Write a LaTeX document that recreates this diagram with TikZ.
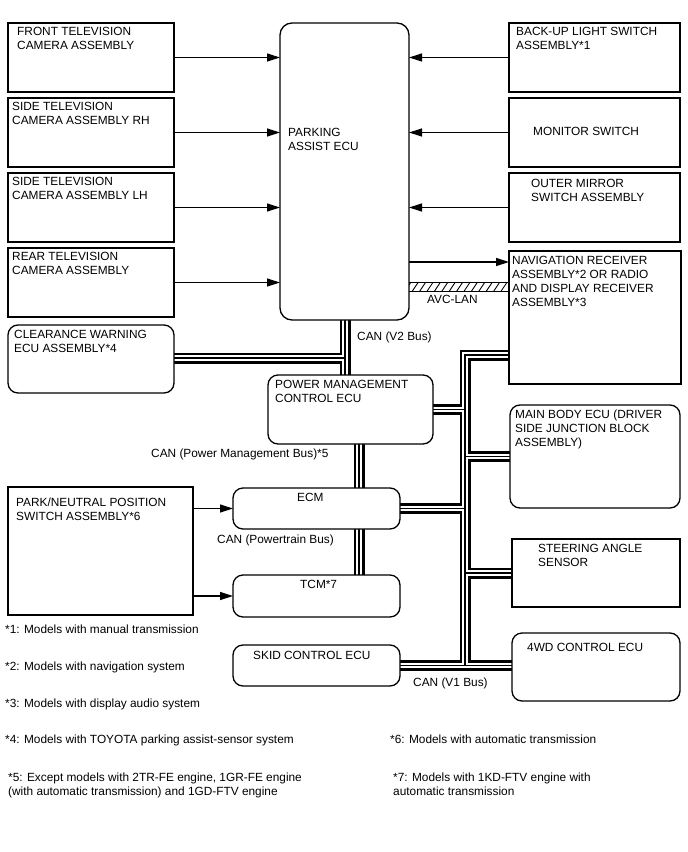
\documentclass[tikz,border=0pt]{standalone}
\usepackage{fontspec}
\setmainfont{Liberation Sans}
\usetikzlibrary{arrows.meta,calc,backgrounds}

\begin{document}
\begin{tikzpicture}[
  x=1bp, y=-1bp,
  font=\fontsize{11.9}{14}\selectfont,
  unit/.style={draw,line width=1.3bp,fill=white,anchor=north west,inner sep=0pt,outer sep=0pt},
  ecu/.style={unit,rounded corners=10bp},
  txt/.style={anchor=north west,inner sep=0pt,align=left},
  sig/.style={line width=1.2bp,-{Triangle[length=13bp,width=8bp]}},
  busa/.style={line width=11bp},
  busb/.style={line width=5.4bp,white},
  busc/.style={line width=1.1bp},
]
\useasboundingbox (0,0) rectangle (688,852);

\node[unit,minimum width=166bp,minimum height=69bp,label={[txt,xshift=9bp,yshift=-4bp]north west:{FRONT TELEVISION\\CAMERA ASSEMBLY}}] (front) at (8,23) {};
\node[unit,minimum width=166bp,minimum height=69bp,label={[txt,xshift=4bp,yshift=-4bp]north west:{SIDE TELEVISION\\CAMERA ASSEMBLY RH}}] (siderh) at (8,98) {};
\node[unit,minimum width=166bp,minimum height=69bp,label={[txt,xshift=4bp,yshift=-4bp]north west:{SIDE TELEVISION\\CAMERA ASSEMBLY LH}}] (sidelh) at (8,173) {};
\node[unit,minimum width=166bp,minimum height=69bp,label={[txt,xshift=4bp,yshift=-4bp]north west:{REAR TELEVISION\\CAMERA ASSEMBLY}}] (rear) at (8,248) {};
\node[ecu,rounded corners=12bp,minimum width=129bp,minimum height=297bp,label={[txt,xshift=8bp,yshift=-105bp]north west:{PARKING\\ASSIST ECU}}] (pa) at (280,23) {};

\node[unit,minimum width=171bp,minimum height=69bp,label={[txt,xshift=7bp,yshift=-4bp]north west:{BACK-UP LIGHT SWITCH\\ASSEMBLY*1}}] (backup) at (509,23) {};
\node[unit,minimum width=171bp,minimum height=69bp,label={[txt,xshift=24bp,yshift=-29.5bp]north west:{MONITOR SWITCH}}] (monitor) at (509,98) {};
\node[unit,minimum width=171bp,minimum height=69bp,label={[txt,xshift=22bp,yshift=-6bp]north west:{OUTER MIRROR\\SWITCH ASSEMBLY}}] (mirror) at (509,173) {};
\node[unit,minimum width=172bp,minimum height=133bp,label={[txt,xshift=3bp,yshift=-5bp]north west:{NAVIGATION RECEIVER\\ASSEMBLY*2 OR RADIO\\AND DISPLAY RECEIVER\\ASSEMBLY*3}}] (nav) at (509,251) {};

\node[ecu,minimum width=166bp,minimum height=68bp,label={[txt,xshift=6bp,yshift=-5bp]north west:{CLEARANCE WARNING\\ECU ASSEMBLY*4}}] (cw) at (8,325) {};
\node[ecu,minimum width=165bp,minimum height=69bp,label={[txt,xshift=7bp,yshift=-5bp]north west:{POWER MANAGEMENT\\CONTROL ECU}}] (pmcu) at (268,375) {};
\node[unit,minimum width=185bp,minimum height=128bp,label={[txt,xshift=8bp,yshift=-11bp]north west:{PARK/NEUTRAL POSITION\\SWITCH ASSEMBLY*6}}] (pn) at (8,487) {};
\node[ecu,minimum width=167bp,minimum height=41bp,label={[txt,xshift=64bp,yshift=-5bp]north west:{ECM}}] (ecm) at (233,488) {};
\node[ecu,minimum width=167bp,minimum height=42bp,label={[txt,xshift=67bp,yshift=-5bp]north west:{TCM*7}}] (tcm) at (233,575) {};
\node[ecu,minimum width=167bp,minimum height=41bp,label={[txt,xshift=20bp,yshift=-6bp]north west:{SKID CONTROL ECU}}] (skid) at (233,645) {};

\node[ecu,minimum width=170bp,minimum height=103bp,label={[txt,xshift=5bp,yshift=-5bp]north west:{MAIN BODY ECU (DRIVER\\SIDE JUNCTION BLOCK\\ASSEMBLY)}}] (mb) at (510,405) {};
\node[unit,minimum width=168bp,minimum height=68bp,label={[txt,xshift=26bp,yshift=-5bp]north west:{STEERING ANGLE\\SENSOR}}] (sas) at (512,539) {};
\node[ecu,minimum width=168bp,minimum height=68bp,label={[txt,xshift=15bp,yshift=-10bp]north west:{4WD CONTROL ECU}}] (wd) at (512,633) {};

\foreach \src in {front,siderh,sidelh,rear}
  \draw[sig] (\src.east) -- (\src.east -| pa.west);
\foreach \src in {backup,monitor,mirror}
  \draw[sig] (\src.west) -- (\src.west -| pa.east);
\coordinate (navin) at ($(nav.north west)+(0,11)$);
\draw[sig] (pa.east |- navin) -- (navin);
\draw[sig] (pn.east |- ecm.west) -- (ecm.west);
\draw[sig] (pn.east |- tcm.west) -- (tcm.west);

\coordinate (avca) at (409,282);
\coordinate (avcb) at (509,291);
\begin{scope}
  \clip (avca) rectangle (avcb);
  \foreach \k in {0,...,14}
    \draw[line width=0.9bp] ($(avca)+(\k*7.4-4,9)$) -- ++(6,-9);
\end{scope}
\draw[line width=0.6bp] (avca) -- (avca -| avcb) (avca |- avcb) -- (avcb);

\coordinate (v2) at (345,358);
\coordinate (pm) at (359,466);
\coordinate (v1) at (465,355);
\begin{scope}[on background layer]
  \foreach \sty in {busa,busb,busc}
    \draw[\sty] (pa.south -| v2) -- (pmcu.north -| v2)
      (cw.east |- v2) -- (v2)
      (pmcu.south -| pm) -- (ecm.north -| pm)
      (ecm.south -| pm) -- (tcm.north -| pm)
      (nav.west |- v1) -- (v1) -- (v1 |- skid.east)
      (skid.east) -- (skid.east -| wd.west)
      (pmcu.east) -- (pmcu.east -| v1)
      (ecm.east) -- (ecm.east -| v1)
      (mb.west) -- (mb.west -| v1)
      (sas.west) -- (sas.west -| v1);
\end{scope}

\node[txt] (canv2) at (357,331.5) {CAN (V2 Bus)};
\node[txt] (avclan) at (427,295.5) {AVC-LAN};
\node[txt] (canpm) at (151,448.5) {CAN (Power Management Bus)*5};
\node[txt] (canpt) at (217,534.5) {CAN (Powertrain Bus)};
\node[txt] (canv1) at (413,677.5) {CAN (V1 Bus)};

\node[txt] (fn1) at (5,624.5) {*1: Models with manual transmission};
\node[txt] (fn2) at (5,661.5) {*2: Models with navigation system};
\node[txt] (fn3) at (5,699) {*3: Models with display audio system};
\node[txt] (fn4) at (5,735) {*4: Models with TOYOTA parking assist-sensor system};
\node[txt] (fn6) at (390,735) {*6: Models with automatic transmission};
\node[txt] (fn5) at (8,772.5) {*5: Except models with 2TR-FE engine, 1GR-FE engine\\(with automatic transmission) and 1GD-FTV engine};
\node[txt] (fn7) at (393,772.5) {*7: Models with 1KD-FTV engine with\\automatic transmission};
\end{tikzpicture}
\end{document}
